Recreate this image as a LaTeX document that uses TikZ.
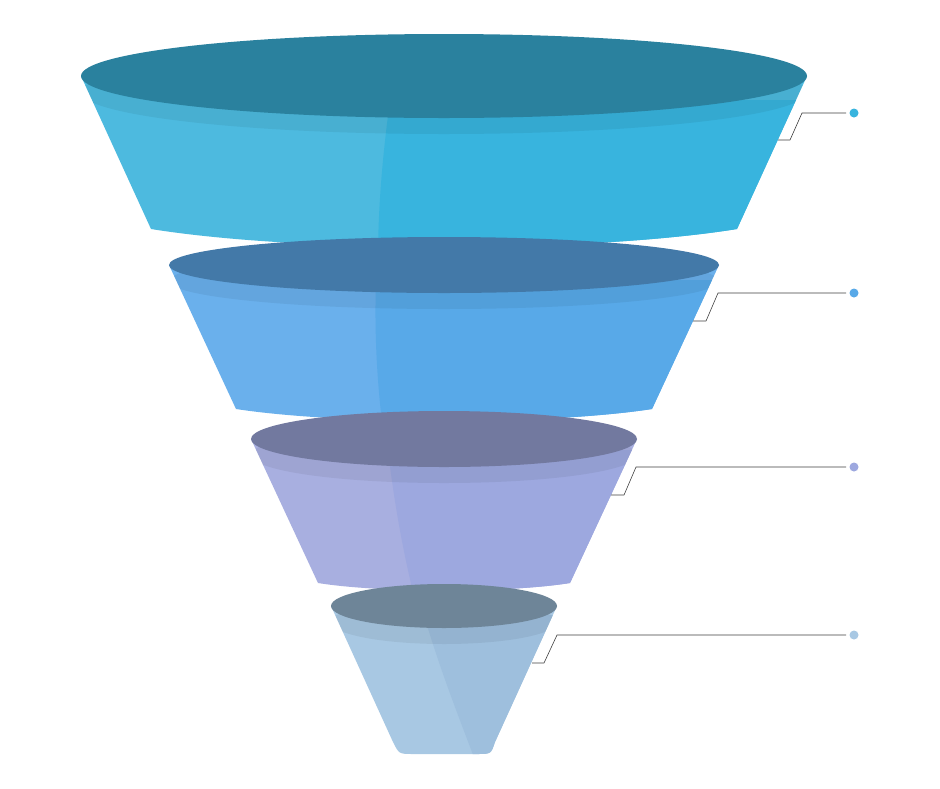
\documentclass[tikz,border=0pt]{standalone}
\begin{document}
\begin{tikzpicture}[x=1pt,y=-1pt,
  leader/.style={draw=black!75,line width=0.6pt},
  band/.style={fill=black,fill opacity=0.06}]
\useasboundingbox[fill=white] (0,0) rectangle (940,788);
% segment 1
\definecolor{t1}{HTML}{2A819E}\definecolor{l1}{HTML}{4DBADF}\definecolor{r1}{HTML}{38B4DE}
\begin{scope}
\path[clip] (81,76) -- (151,229) .. controls (300,253) and (588,253) .. (737,229) -- (807,76) -- cycle;
\fill[l1] (0,0) rectangle (940,300);
\fill[r1] (390,100) .. controls (382,160) and (378,210) .. (378,260) -- (900,260) -- (900,100) -- cycle;
\fill[band] (444,92) ellipse[x radius=363,y radius=42];
\end{scope}
\fill[t1] (444,76) ellipse[x radius=363,y radius=42];
% segment 2
\definecolor{t2}{HTML}{4379A8}\definecolor{l2}{HTML}{6AB0EC}\definecolor{r2}{HTML}{58A9E8}
\begin{scope}
\path[clip] (169,265) -- (236,409) .. controls (340,425) and (548,425) .. (652,409) -- (719,265) -- cycle;
\fill[l2] (0,240) rectangle (940,430);
\fill[r2] (376,280) .. controls (374,340) and (378,390) .. (383,430) -- (900,430) -- (900,280) -- cycle;
\fill[band] (444,281) ellipse[x radius=275,y radius=28];
\end{scope}
\fill[t2] (444,265) ellipse[x radius=275,y radius=28];
% segment 3
\definecolor{t3}{HTML}{72799F}\definecolor{l3}{HTML}{A8AFE0}\definecolor{r3}{HTML}{9DA8DF}
\begin{scope}
\path[clip] (251,439) -- (318,583) .. controls (380,593) and (508,593) .. (570,583) -- (637,439) -- cycle;
\fill[l3] (0,410) rectangle (940,600);
\fill[r3] (388,450) .. controls (395,510) and (405,560) .. (415,600) -- (900,600) -- (900,450) -- cycle;
\fill[band] (444,455) ellipse[x radius=193,y radius=28];
\end{scope}
\fill[t3] (444,439) ellipse[x radius=193,y radius=28];
% segment 4
\definecolor{t4}{HTML}{6E8598}\definecolor{l4}{HTML}{A8C8E3}\definecolor{r4}{HTML}{9EBFDD}
\begin{scope}
\path[clip] (331,606) -- (393,742) .. controls (399,754) .. (413,754) -- (477,754) .. controls (491,754) .. (495,742) -- (557,606) -- cycle;
\fill[l4] (0,580) rectangle (940,770);
\fill[r4] (424,615) .. controls (440,670) and (460,720) .. (475,760) -- (900,760) -- (900,615) -- cycle;
\fill[band] (444,622) ellipse[x radius=113,y radius=22];
\end{scope}
\fill[t4] (444,606) ellipse[x radius=113,y radius=22];
% leaders
\coordinate (a1) at (778,140); \coordinate (d1) at (854,113);
\coordinate (a2) at (693,321); \coordinate (d2) at (854,293);
\coordinate (a3) at (611,495); \coordinate (d3) at (854,467);
\coordinate (a4) at (532,663); \coordinate (d4) at (854,635);
\draw[leader] (a1) -- (790,140) -- (802,113) -- (846,113);
\draw[leader] (a2) -- (706,321) -- (718,293) -- (846,293);
\draw[leader] (a3) -- (624,495) -- (636,467) -- (846,467);
\draw[leader] (a4) -- (544,663) -- (557,635) -- (846,635);
\fill[r1] (d1) circle (4.5);
\fill[r2] (d2) circle (4.5);
\fill[r3] (d3) circle (4.5);
\fill[l4] (d4) circle (4.5);
\end{tikzpicture}
\end{document}
